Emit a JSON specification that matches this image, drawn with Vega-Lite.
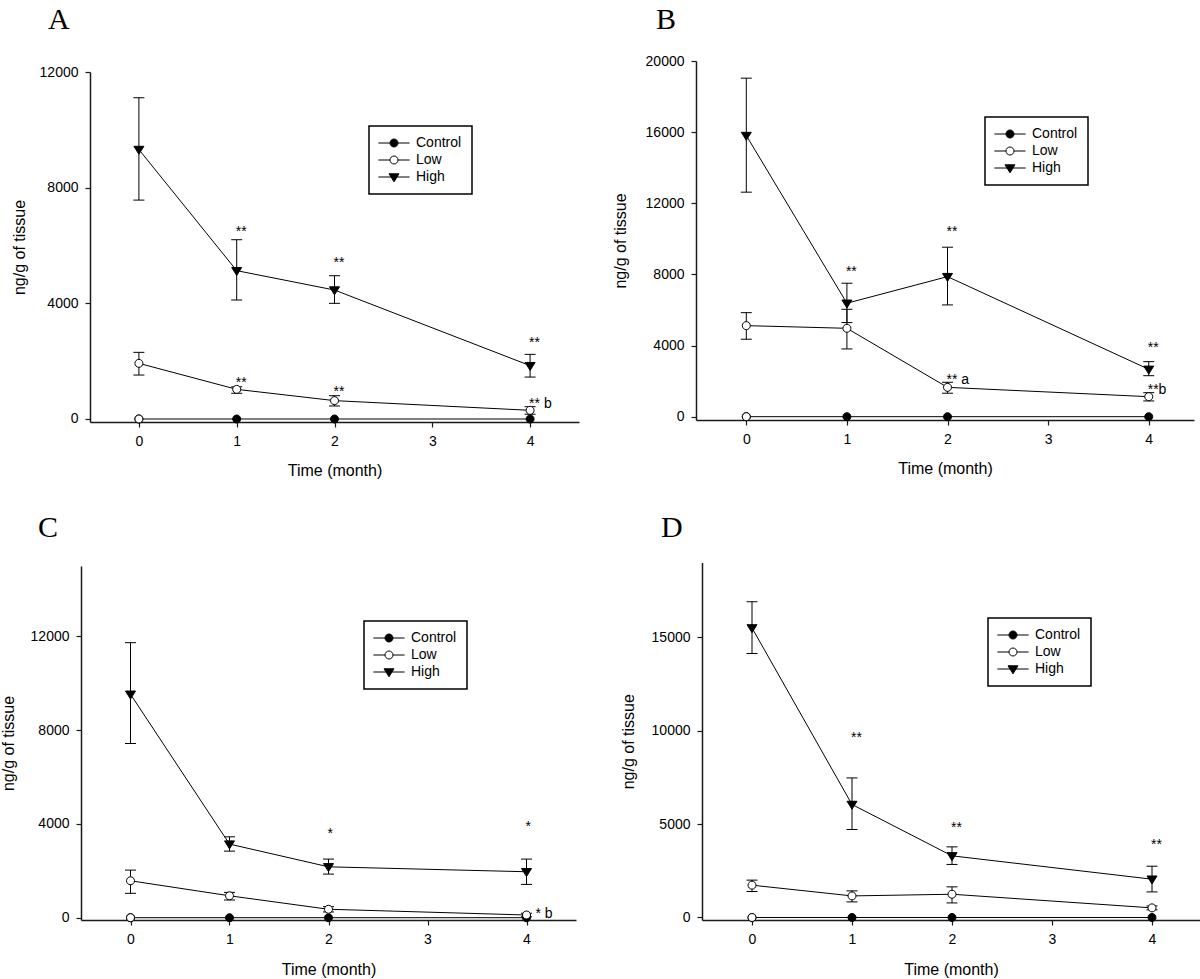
{
  "$schema": "https://vega.github.io/schema/vega-lite/v6.json",
  "padding": 0,
  "autosize": {"type": "pad"},
  "bounds": "flush",
  "spacing": 0,
  "columns": 2,
  "resolve": {"legend": {"shape": "independent", "fill": "independent"}},
  "datasets": {
    "series": [
      {"panel": "A", "group": "Control", "month": 0, "value": 0},
      {"panel": "A", "group": "Control", "month": 1, "value": 0},
      {"panel": "A", "group": "Control", "month": 2, "value": 0},
      {"panel": "A", "group": "Control", "month": 4, "value": 0},
      {"panel": "A", "group": "Low", "month": 0, "value": 1925, "lo": 1520, "hi": 2305},
      {"panel": "A", "group": "Low", "month": 1, "value": 1025, "lo": 890, "hi": 1115},
      {"panel": "A", "group": "Low", "month": 2, "value": 635, "lo": 450, "hi": 805},
      {"panel": "A", "group": "Low", "month": 4, "value": 300, "lo": 165, "hi": 425},
      {"panel": "A", "group": "High", "month": 0, "value": 9320, "lo": 7570, "hi": 11110},
      {"panel": "A", "group": "High", "month": 1, "value": 5130, "lo": 4115, "hi": 6200},
      {"panel": "A", "group": "High", "month": 2, "value": 4460, "lo": 4000, "hi": 4955},
      {"panel": "A", "group": "High", "month": 4, "value": 1845, "lo": 1450, "hi": 2235},
      {"panel": "B", "group": "Control", "month": 0, "value": 0},
      {"panel": "B", "group": "Control", "month": 1, "value": 0},
      {"panel": "B", "group": "Control", "month": 2, "value": 0},
      {"panel": "B", "group": "Control", "month": 4, "value": 0},
      {"panel": "B", "group": "Low", "month": 0, "value": 5120, "lo": 4355, "hi": 5850},
      {"panel": "B", "group": "Low", "month": 1, "value": 4970, "lo": 3810, "hi": 6040},
      {"panel": "B", "group": "Low", "month": 2, "value": 1650, "lo": 1320, "hi": 1935},
      {"panel": "B", "group": "Low", "month": 4, "value": 1125, "lo": 885, "hi": 1350},
      {"panel": "B", "group": "High", "month": 0, "value": 15810, "lo": 12625, "hi": 19035},
      {"panel": "B", "group": "High", "month": 1, "value": 6380, "lo": 5290, "hi": 7505},
      {"panel": "B", "group": "High", "month": 2, "value": 7875, "lo": 6285, "hi": 9530},
      {"panel": "B", "group": "High", "month": 4, "value": 2665, "lo": 2305, "hi": 3095},
      {"panel": "C", "group": "Control", "month": 0, "value": 0},
      {"panel": "C", "group": "Control", "month": 1, "value": 0},
      {"panel": "C", "group": "Control", "month": 2, "value": 0},
      {"panel": "C", "group": "Control", "month": 4, "value": 0},
      {"panel": "C", "group": "Low", "month": 0, "value": 1575, "lo": 1040, "hi": 2030},
      {"panel": "C", "group": "Low", "month": 1, "value": 935, "lo": 755, "hi": 1080},
      {"panel": "C", "group": "Low", "month": 2, "value": 360, "lo": 245, "hi": 470},
      {"panel": "C", "group": "Low", "month": 4, "value": 115, "lo": 40, "hi": 190},
      {"panel": "C", "group": "High", "month": 0, "value": 9530, "lo": 7430, "hi": 11730},
      {"panel": "C", "group": "High", "month": 1, "value": 3140, "lo": 2840, "hi": 3450},
      {"panel": "C", "group": "High", "month": 2, "value": 2170, "lo": 1860, "hi": 2500},
      {"panel": "C", "group": "High", "month": 4, "value": 1960, "lo": 1420, "hi": 2500},
      {"panel": "D", "group": "Control", "month": 0, "value": 0},
      {"panel": "D", "group": "Control", "month": 1, "value": 0},
      {"panel": "D", "group": "Control", "month": 2, "value": 0},
      {"panel": "D", "group": "Control", "month": 4, "value": 0},
      {"panel": "D", "group": "Low", "month": 0, "value": 1730, "lo": 1390, "hi": 2000},
      {"panel": "D", "group": "Low", "month": 1, "value": 1155, "lo": 835, "hi": 1425},
      {"panel": "D", "group": "Low", "month": 2, "value": 1245, "lo": 780, "hi": 1640},
      {"panel": "D", "group": "Low", "month": 4, "value": 515, "lo": 410, "hi": 620},
      {"panel": "D", "group": "High", "month": 0, "value": 15500, "lo": 14130, "hi": 16900},
      {"panel": "D", "group": "High", "month": 1, "value": 6050, "lo": 4710, "hi": 7470},
      {"panel": "D", "group": "High", "month": 2, "value": 3300, "lo": 2840, "hi": 3780},
      {"panel": "D", "group": "High", "month": 4, "value": 2050, "lo": 1370, "hi": 2745}
    ],
    "notes": [
      {"panel": "A", "month": 1, "pos": 6600, "label": "**"},
      {"panel": "A", "month": 2, "pos": 5530, "label": "**"},
      {"panel": "A", "month": 4, "pos": 2770, "label": "**"},
      {"panel": "A", "month": 1, "pos": 1380, "label": "**"},
      {"panel": "A", "month": 2, "pos": 1070, "label": "**"},
      {"panel": "A", "month": 4, "pos": 650, "label": "** b"},
      {"panel": "B", "month": 1, "pos": 8350, "label": "**"},
      {"panel": "B", "month": 2, "pos": 10630, "label": "**"},
      {"panel": "B", "month": 4, "pos": 4070, "label": "**"},
      {"panel": "B", "month": 2, "pos": 2300, "label": "** a"},
      {"panel": "B", "month": 4, "pos": 1700, "label": "**b"},
      {"panel": "C", "month": 2, "pos": 3740, "label": "*"},
      {"panel": "C", "month": 4, "pos": 4020, "label": "*"},
      {"panel": "C", "month": 4.1, "pos": 330, "label": "* b"},
      {"panel": "D", "month": 1, "pos": 9800, "label": "**"},
      {"panel": "D", "month": 2, "pos": 5000, "label": "**"},
      {"panel": "D", "month": 4, "pos": 4100, "label": "**"}
    ]
  },
  "concat": [
    {
      "width": 600, "height": 490,
      "title": {"text": "A", "dx": 48, "offset": -35},
      "layer": [
        {"data": {"name": "series"}, "transform": [{"filter": "datum.panel === 'A'"}],
         "mark": {"type": "line", "color": "black", "strokeWidth": 1},
         "encoding": {
           "x": {"field": "month", "type": "quantitative", "scale": {"domain": [-0.5, 4.5], "range": [90, 579], "nice": false, "zero": false},
                 "axis": {"values": [0, 1, 2, 3, 4], "format": "d", "title": "Time (month)", "offset": -68, "labelPadding": 7, "titlePadding": 14}},
           "y": {"field": "value", "type": "quantitative", "scale": {"domain": [-104, 12000], "range": [422, 72], "nice": false, "zero": false},
                 "axis": {"values": [0, 4000, 8000, 12000], "format": "d", "title": "ng/g of tissue", "offset": -90, "labelPadding": 7, "titlePadding": 12}},
           "detail": {"field": "group"}}},
        {"data": {"name": "series"}, "transform": [{"filter": "datum.panel === 'A' && isValid(datum.lo)"}],
         "mark": {"type": "rule", "color": "black", "strokeWidth": 1},
         "encoding": {
           "x": {"field": "month", "type": "quantitative", "scale": {"domain": [-0.5, 4.5], "range": [90, 579], "nice": false, "zero": false}},
           "y": {"field": "lo", "type": "quantitative", "scale": {"domain": [-104, 12000], "range": [422, 72], "nice": false, "zero": false}},
           "y2": {"field": "hi"}}},
        {"data": {"name": "series"}, "transform": [{"filter": "datum.panel === 'A' && isValid(datum.lo)"}],
         "mark": {"type": "tick", "orient": "horizontal", "size": 11, "thickness": 1, "color": "black", "opacity": 1},
         "encoding": {
           "x": {"field": "month", "type": "quantitative", "scale": {"domain": [-0.5, 4.5], "range": [90, 579], "nice": false, "zero": false}},
           "y": {"field": "lo", "type": "quantitative", "scale": {"domain": [-104, 12000], "range": [422, 72], "nice": false, "zero": false}}}},
        {"data": {"name": "series"}, "transform": [{"filter": "datum.panel === 'A' && isValid(datum.hi)"}],
         "mark": {"type": "tick", "orient": "horizontal", "size": 11, "thickness": 1, "color": "black", "opacity": 1},
         "encoding": {
           "x": {"field": "month", "type": "quantitative", "scale": {"domain": [-0.5, 4.5], "range": [90, 579], "nice": false, "zero": false}},
           "y": {"field": "hi", "type": "quantitative", "scale": {"domain": [-104, 12000], "range": [422, 72], "nice": false, "zero": false}}}},
        {"data": {"name": "series"}, "transform": [{"filter": "datum.panel === 'A'"}],
         "mark": {"type": "point", "filled": true, "stroke": "black", "strokeWidth": 1, "size": 64, "opacity": 0},
         "encoding": {
           "x": {"field": "month", "type": "quantitative", "scale": {"domain": [-0.5, 4.5], "range": [90, 579], "nice": false, "zero": false}},
           "y": {"field": "value", "type": "quantitative", "scale": {"domain": [-104, 12000], "range": [422, 72], "nice": false, "zero": false}},
           "shape": {"field": "group", "type": "nominal",
                     "scale": {"domain": ["Control", "Low", "High"], "range": ["M-3.9,0H-1M1,0H3.9M1,0A1,1,0,1,1,-1,0A1,1,0,1,1,1,0Z", "M-3.9,0H-1M1,0H3.9M1,0A1,1,0,1,1,-1,0A1,1,0,1,1,1,0Z", "M-3.9,0H3.9M-1.25,-0.8L1.25,-0.8L0,1.2Z"]},
                     "legend": {"title": null, "orient": "none", "legendX": 369, "legendY": 126, "symbolOpacity": 1}}}},
        {"data": {"name": "series"}, "transform": [{"filter": "datum.panel === 'A'"}],
         "mark": {"type": "point", "filled": true, "stroke": "black", "strokeWidth": 1, "size": 64, "opacity": 1},
         "encoding": {
           "x": {"field": "month", "type": "quantitative", "scale": {"domain": [-0.5, 4.5], "range": [90, 579], "nice": false, "zero": false}},
           "y": {"field": "value", "type": "quantitative", "scale": {"domain": [-104, 12000], "range": [422, 72], "nice": false, "zero": false}},
           "shape": {"condition": {"test": "datum.group === 'High'", "value": "M-1.25,-0.8L1.25,-0.8L0,1.2Z"}, "value": "M1,0A1,1,0,1,1,-1,0A1,1,0,1,1,1,0Z"},
           "fill": {"field": "group", "type": "nominal",
                    "scale": {"domain": ["Control", "Low", "High"], "range": ["black", "white", "black"]},
                    "legend": {"title": null, "orient": "none", "legendX": 369, "legendY": 126, "symbolOpacity": 1}}}},
        {"data": {"name": "series"}, "transform": [{"filter": "datum.panel === 'A' && datum.group === 'Control' && datum.month === 0"}],
         "mark": {"type": "point", "filled": true, "fill": "white", "stroke": "black", "strokeWidth": 1, "size": 64, "opacity": 1, "shape": "M1,0A1,1,0,1,1,-1,0A1,1,0,1,1,1,0Z"},
         "encoding": {
           "x": {"field": "month", "type": "quantitative", "scale": {"domain": [-0.5, 4.5], "range": [90, 579], "nice": false, "zero": false}},
           "y": {"field": "value", "type": "quantitative", "scale": {"domain": [-104, 12000], "range": [422, 72], "nice": false, "zero": false}}}},
        {"data": {"name": "notes"}, "transform": [{"filter": "datum.panel === 'A'"}],
         "mark": {"type": "text", "align": "left", "baseline": "alphabetic", "dx": -1, "dy": 8, "fontSize": 14, "font": "Liberation Sans", "color": "black"},
         "encoding": {
           "x": {"field": "month", "type": "quantitative", "scale": {"domain": [-0.5, 4.5], "range": [90, 579], "nice": false, "zero": false}},
           "y": {"field": "pos", "type": "quantitative", "scale": {"domain": [-104, 12000], "range": [422, 72], "nice": false, "zero": false}},
           "text": {"field": "label"}}}
      ]
    },
    {
      "width": 600, "height": 490,
      "title": {"text": "B", "dx": 56, "offset": -35},
      "layer": [
        {"data": {"name": "series"}, "transform": [{"filter": "datum.panel === 'B'"}],
         "mark": {"type": "line", "color": "black", "strokeWidth": 1},
         "encoding": {
           "x": {"field": "month", "type": "quantitative", "scale": {"domain": [-0.5, 4.45], "range": [96, 594], "nice": false, "zero": false},
                 "axis": {"values": [0, 1, 2, 3, 4], "format": "d", "title": "Time (month)", "offset": -70, "labelPadding": 7, "titlePadding": 14}},
           "y": {"field": "value", "type": "quantitative", "scale": {"domain": [-186, 20000], "range": [420, 61], "nice": false, "zero": false},
                 "axis": {"values": [0, 4000, 8000, 12000, 16000, 20000], "format": "d", "title": "ng/g of tissue", "offset": -96, "labelPadding": 7, "titlePadding": 17}},
           "detail": {"field": "group"}}},
        {"data": {"name": "series"}, "transform": [{"filter": "datum.panel === 'B' && isValid(datum.lo)"}],
         "mark": {"type": "rule", "color": "black", "strokeWidth": 1},
         "encoding": {
           "x": {"field": "month", "type": "quantitative", "scale": {"domain": [-0.5, 4.45], "range": [96, 594], "nice": false, "zero": false}},
           "y": {"field": "lo", "type": "quantitative", "scale": {"domain": [-186, 20000], "range": [420, 61], "nice": false, "zero": false}},
           "y2": {"field": "hi"}}},
        {"data": {"name": "series"}, "transform": [{"filter": "datum.panel === 'B' && isValid(datum.lo)"}],
         "mark": {"type": "tick", "orient": "horizontal", "size": 11, "thickness": 1, "color": "black", "opacity": 1},
         "encoding": {
           "x": {"field": "month", "type": "quantitative", "scale": {"domain": [-0.5, 4.45], "range": [96, 594], "nice": false, "zero": false}},
           "y": {"field": "lo", "type": "quantitative", "scale": {"domain": [-186, 20000], "range": [420, 61], "nice": false, "zero": false}}}},
        {"data": {"name": "series"}, "transform": [{"filter": "datum.panel === 'B' && isValid(datum.hi)"}],
         "mark": {"type": "tick", "orient": "horizontal", "size": 11, "thickness": 1, "color": "black", "opacity": 1},
         "encoding": {
           "x": {"field": "month", "type": "quantitative", "scale": {"domain": [-0.5, 4.45], "range": [96, 594], "nice": false, "zero": false}},
           "y": {"field": "hi", "type": "quantitative", "scale": {"domain": [-186, 20000], "range": [420, 61], "nice": false, "zero": false}}}},
        {"data": {"name": "series"}, "transform": [{"filter": "datum.panel === 'B'"}],
         "mark": {"type": "point", "filled": true, "stroke": "black", "strokeWidth": 1, "size": 64, "opacity": 0},
         "encoding": {
           "x": {"field": "month", "type": "quantitative", "scale": {"domain": [-0.5, 4.45], "range": [96, 594], "nice": false, "zero": false}},
           "y": {"field": "value", "type": "quantitative", "scale": {"domain": [-186, 20000], "range": [420, 61], "nice": false, "zero": false}},
           "shape": {"field": "group", "type": "nominal",
                     "scale": {"domain": ["Control", "Low", "High"], "range": ["M-3.9,0H-1M1,0H3.9M1,0A1,1,0,1,1,-1,0A1,1,0,1,1,1,0Z", "M-3.9,0H-1M1,0H3.9M1,0A1,1,0,1,1,-1,0A1,1,0,1,1,1,0Z", "M-3.9,0H3.9M-1.25,-0.8L1.25,-0.8L0,1.2Z"]},
                     "legend": {"title": null, "orient": "none", "legendX": 385, "legendY": 117, "symbolOpacity": 1}}}},
        {"data": {"name": "series"}, "transform": [{"filter": "datum.panel === 'B'"}],
         "mark": {"type": "point", "filled": true, "stroke": "black", "strokeWidth": 1, "size": 64, "opacity": 1},
         "encoding": {
           "x": {"field": "month", "type": "quantitative", "scale": {"domain": [-0.5, 4.45], "range": [96, 594], "nice": false, "zero": false}},
           "y": {"field": "value", "type": "quantitative", "scale": {"domain": [-186, 20000], "range": [420, 61], "nice": false, "zero": false}},
           "shape": {"condition": {"test": "datum.group === 'High'", "value": "M-1.25,-0.8L1.25,-0.8L0,1.2Z"}, "value": "M1,0A1,1,0,1,1,-1,0A1,1,0,1,1,1,0Z"},
           "fill": {"field": "group", "type": "nominal",
                    "scale": {"domain": ["Control", "Low", "High"], "range": ["black", "white", "black"]},
                    "legend": {"title": null, "orient": "none", "legendX": 385, "legendY": 117, "symbolOpacity": 1}}}},
        {"data": {"name": "series"}, "transform": [{"filter": "datum.panel === 'B' && datum.group === 'Control' && datum.month === 0"}],
         "mark": {"type": "point", "filled": true, "fill": "white", "stroke": "black", "strokeWidth": 1, "size": 64, "opacity": 1, "shape": "M1,0A1,1,0,1,1,-1,0A1,1,0,1,1,1,0Z"},
         "encoding": {
           "x": {"field": "month", "type": "quantitative", "scale": {"domain": [-0.5, 4.45], "range": [96, 594], "nice": false, "zero": false}},
           "y": {"field": "value", "type": "quantitative", "scale": {"domain": [-186, 20000], "range": [420, 61], "nice": false, "zero": false}}}},
        {"data": {"name": "notes"}, "transform": [{"filter": "datum.panel === 'B'"}],
         "mark": {"type": "text", "align": "left", "baseline": "alphabetic", "dx": -1, "dy": 8, "fontSize": 14, "font": "Liberation Sans", "color": "black"},
         "encoding": {
           "x": {"field": "month", "type": "quantitative", "scale": {"domain": [-0.5, 4.45], "range": [96, 594], "nice": false, "zero": false}},
           "y": {"field": "pos", "type": "quantitative", "scale": {"domain": [-186, 20000], "range": [420, 61], "nice": false, "zero": false}},
           "text": {"field": "label"}}}
      ]
    },
    {
      "width": 600, "height": 489,
      "title": {"text": "C", "dx": 38, "offset": -53},
      "layer": [
        {"data": {"name": "series"}, "transform": [{"filter": "datum.panel === 'C'"}],
         "mark": {"type": "line", "color": "black", "strokeWidth": 1},
         "encoding": {
           "x": {"field": "month", "type": "quantitative", "scale": {"domain": [-0.5, 4.5], "range": [81, 576], "nice": false, "zero": false},
                 "axis": {"values": [0, 1, 2, 3, 4], "format": "d", "title": "Time (month)", "offset": -59, "labelPadding": 7, "titlePadding": 15}},
           "y": {"field": "value", "type": "quantitative", "scale": {"domain": [-98, 15000], "range": [430, 76], "nice": false, "zero": false},
                 "axis": {"values": [0, 4000, 8000, 12000], "format": "d", "title": "ng/g of tissue", "offset": -81, "labelPadding": 7, "titlePadding": 14}},
           "detail": {"field": "group"}}},
        {"data": {"name": "series"}, "transform": [{"filter": "datum.panel === 'C' && isValid(datum.lo)"}],
         "mark": {"type": "rule", "color": "black", "strokeWidth": 1},
         "encoding": {
           "x": {"field": "month", "type": "quantitative", "scale": {"domain": [-0.5, 4.5], "range": [81, 576], "nice": false, "zero": false}},
           "y": {"field": "lo", "type": "quantitative", "scale": {"domain": [-98, 15000], "range": [430, 76], "nice": false, "zero": false}},
           "y2": {"field": "hi"}}},
        {"data": {"name": "series"}, "transform": [{"filter": "datum.panel === 'C' && isValid(datum.lo)"}],
         "mark": {"type": "tick", "orient": "horizontal", "size": 11, "thickness": 1, "color": "black", "opacity": 1},
         "encoding": {
           "x": {"field": "month", "type": "quantitative", "scale": {"domain": [-0.5, 4.5], "range": [81, 576], "nice": false, "zero": false}},
           "y": {"field": "lo", "type": "quantitative", "scale": {"domain": [-98, 15000], "range": [430, 76], "nice": false, "zero": false}}}},
        {"data": {"name": "series"}, "transform": [{"filter": "datum.panel === 'C' && isValid(datum.hi)"}],
         "mark": {"type": "tick", "orient": "horizontal", "size": 11, "thickness": 1, "color": "black", "opacity": 1},
         "encoding": {
           "x": {"field": "month", "type": "quantitative", "scale": {"domain": [-0.5, 4.5], "range": [81, 576], "nice": false, "zero": false}},
           "y": {"field": "hi", "type": "quantitative", "scale": {"domain": [-98, 15000], "range": [430, 76], "nice": false, "zero": false}}}},
        {"data": {"name": "series"}, "transform": [{"filter": "datum.panel === 'C'"}],
         "mark": {"type": "point", "filled": true, "stroke": "black", "strokeWidth": 1, "size": 64, "opacity": 0},
         "encoding": {
           "x": {"field": "month", "type": "quantitative", "scale": {"domain": [-0.5, 4.5], "range": [81, 576], "nice": false, "zero": false}},
           "y": {"field": "value", "type": "quantitative", "scale": {"domain": [-98, 15000], "range": [430, 76], "nice": false, "zero": false}},
           "shape": {"field": "group", "type": "nominal",
                     "scale": {"domain": ["Control", "Low", "High"], "range": ["M-3.9,0H-1M1,0H3.9M1,0A1,1,0,1,1,-1,0A1,1,0,1,1,1,0Z", "M-3.9,0H-1M1,0H3.9M1,0A1,1,0,1,1,-1,0A1,1,0,1,1,1,0Z", "M-3.9,0H3.9M-1.25,-0.8L1.25,-0.8L0,1.2Z"]},
                     "legend": {"title": null, "orient": "none", "legendX": 364, "legendY": 131, "symbolOpacity": 1}}}},
        {"data": {"name": "series"}, "transform": [{"filter": "datum.panel === 'C'"}],
         "mark": {"type": "point", "filled": true, "stroke": "black", "strokeWidth": 1, "size": 64, "opacity": 1},
         "encoding": {
           "x": {"field": "month", "type": "quantitative", "scale": {"domain": [-0.5, 4.5], "range": [81, 576], "nice": false, "zero": false}},
           "y": {"field": "value", "type": "quantitative", "scale": {"domain": [-98, 15000], "range": [430, 76], "nice": false, "zero": false}},
           "shape": {"condition": {"test": "datum.group === 'High'", "value": "M-1.25,-0.8L1.25,-0.8L0,1.2Z"}, "value": "M1,0A1,1,0,1,1,-1,0A1,1,0,1,1,1,0Z"},
           "fill": {"field": "group", "type": "nominal",
                    "scale": {"domain": ["Control", "Low", "High"], "range": ["black", "white", "black"]},
                    "legend": {"title": null, "orient": "none", "legendX": 364, "legendY": 131, "symbolOpacity": 1}}}},
        {"data": {"name": "series"}, "transform": [{"filter": "datum.panel === 'C' && datum.group === 'Control' && datum.month === 0"}],
         "mark": {"type": "point", "filled": true, "fill": "white", "stroke": "black", "strokeWidth": 1, "size": 64, "opacity": 1, "shape": "M1,0A1,1,0,1,1,-1,0A1,1,0,1,1,1,0Z"},
         "encoding": {
           "x": {"field": "month", "type": "quantitative", "scale": {"domain": [-0.5, 4.5], "range": [81, 576], "nice": false, "zero": false}},
           "y": {"field": "value", "type": "quantitative", "scale": {"domain": [-98, 15000], "range": [430, 76], "nice": false, "zero": false}}}},
        {"data": {"name": "notes"}, "transform": [{"filter": "datum.panel === 'C'"}],
         "mark": {"type": "text", "align": "left", "baseline": "alphabetic", "dx": -1, "dy": 8, "fontSize": 14, "font": "Liberation Sans", "color": "black"},
         "encoding": {
           "x": {"field": "month", "type": "quantitative", "scale": {"domain": [-0.5, 4.5], "range": [81, 576], "nice": false, "zero": false}},
           "y": {"field": "pos", "type": "quantitative", "scale": {"domain": [-98, 15000], "range": [430, 76], "nice": false, "zero": false}},
           "text": {"field": "label"}}}
      ]
    },
    {
      "width": 600, "height": 489,
      "title": {"text": "D", "dx": 61, "offset": -53},
      "layer": [
        {"data": {"name": "series"}, "transform": [{"filter": "datum.panel === 'D'"}],
         "mark": {"type": "line", "color": "black", "strokeWidth": 1},
         "encoding": {
           "x": {"field": "month", "type": "quantitative", "scale": {"domain": [-0.5, 4.48], "range": [102, 600], "nice": false, "zero": false},
                 "axis": {"values": [0, 1, 2, 3, 4], "format": "d", "title": "Time (month)", "offset": -59, "labelPadding": 7, "titlePadding": 15}},
           "y": {"field": "value", "type": "quantitative", "scale": {"domain": [-134, 19000], "range": [430, 72.5], "nice": false, "zero": false},
                 "axis": {"values": [0, 5000, 10000, 15000], "format": "d", "title": "ng/g of tissue", "offset": -102, "labelPadding": 7, "titlePadding": 15}},
           "detail": {"field": "group"}}},
        {"data": {"name": "series"}, "transform": [{"filter": "datum.panel === 'D' && isValid(datum.lo)"}],
         "mark": {"type": "rule", "color": "black", "strokeWidth": 1},
         "encoding": {
           "x": {"field": "month", "type": "quantitative", "scale": {"domain": [-0.5, 4.48], "range": [102, 600], "nice": false, "zero": false}},
           "y": {"field": "lo", "type": "quantitative", "scale": {"domain": [-134, 19000], "range": [430, 72.5], "nice": false, "zero": false}},
           "y2": {"field": "hi"}}},
        {"data": {"name": "series"}, "transform": [{"filter": "datum.panel === 'D' && isValid(datum.lo)"}],
         "mark": {"type": "tick", "orient": "horizontal", "size": 11, "thickness": 1, "color": "black", "opacity": 1},
         "encoding": {
           "x": {"field": "month", "type": "quantitative", "scale": {"domain": [-0.5, 4.48], "range": [102, 600], "nice": false, "zero": false}},
           "y": {"field": "lo", "type": "quantitative", "scale": {"domain": [-134, 19000], "range": [430, 72.5], "nice": false, "zero": false}}}},
        {"data": {"name": "series"}, "transform": [{"filter": "datum.panel === 'D' && isValid(datum.hi)"}],
         "mark": {"type": "tick", "orient": "horizontal", "size": 11, "thickness": 1, "color": "black", "opacity": 1},
         "encoding": {
           "x": {"field": "month", "type": "quantitative", "scale": {"domain": [-0.5, 4.48], "range": [102, 600], "nice": false, "zero": false}},
           "y": {"field": "hi", "type": "quantitative", "scale": {"domain": [-134, 19000], "range": [430, 72.5], "nice": false, "zero": false}}}},
        {"data": {"name": "series"}, "transform": [{"filter": "datum.panel === 'D'"}],
         "mark": {"type": "point", "filled": true, "stroke": "black", "strokeWidth": 1, "size": 64, "opacity": 0},
         "encoding": {
           "x": {"field": "month", "type": "quantitative", "scale": {"domain": [-0.5, 4.48], "range": [102, 600], "nice": false, "zero": false}},
           "y": {"field": "value", "type": "quantitative", "scale": {"domain": [-134, 19000], "range": [430, 72.5], "nice": false, "zero": false}},
           "shape": {"field": "group", "type": "nominal",
                     "scale": {"domain": ["Control", "Low", "High"], "range": ["M-3.9,0H-1M1,0H3.9M1,0A1,1,0,1,1,-1,0A1,1,0,1,1,1,0Z", "M-3.9,0H-1M1,0H3.9M1,0A1,1,0,1,1,-1,0A1,1,0,1,1,1,0Z", "M-3.9,0H3.9M-1.25,-0.8L1.25,-0.8L0,1.2Z"]},
                     "legend": {"title": null, "orient": "none", "legendX": 388, "legendY": 128, "symbolOpacity": 1}}}},
        {"data": {"name": "series"}, "transform": [{"filter": "datum.panel === 'D'"}],
         "mark": {"type": "point", "filled": true, "stroke": "black", "strokeWidth": 1, "size": 64, "opacity": 1},
         "encoding": {
           "x": {"field": "month", "type": "quantitative", "scale": {"domain": [-0.5, 4.48], "range": [102, 600], "nice": false, "zero": false}},
           "y": {"field": "value", "type": "quantitative", "scale": {"domain": [-134, 19000], "range": [430, 72.5], "nice": false, "zero": false}},
           "shape": {"condition": {"test": "datum.group === 'High'", "value": "M-1.25,-0.8L1.25,-0.8L0,1.2Z"}, "value": "M1,0A1,1,0,1,1,-1,0A1,1,0,1,1,1,0Z"},
           "fill": {"field": "group", "type": "nominal",
                    "scale": {"domain": ["Control", "Low", "High"], "range": ["black", "white", "black"]},
                    "legend": {"title": null, "orient": "none", "legendX": 388, "legendY": 128, "symbolOpacity": 1}}}},
        {"data": {"name": "series"}, "transform": [{"filter": "datum.panel === 'D' && datum.group === 'Control' && datum.month === 0"}],
         "mark": {"type": "point", "filled": true, "fill": "white", "stroke": "black", "strokeWidth": 1, "size": 64, "opacity": 1, "shape": "M1,0A1,1,0,1,1,-1,0A1,1,0,1,1,1,0Z"},
         "encoding": {
           "x": {"field": "month", "type": "quantitative", "scale": {"domain": [-0.5, 4.48], "range": [102, 600], "nice": false, "zero": false}},
           "y": {"field": "value", "type": "quantitative", "scale": {"domain": [-134, 19000], "range": [430, 72.5], "nice": false, "zero": false}}}},
        {"data": {"name": "notes"}, "transform": [{"filter": "datum.panel === 'D'"}],
         "mark": {"type": "text", "align": "left", "baseline": "alphabetic", "dx": -1, "dy": 8, "fontSize": 14, "font": "Liberation Sans", "color": "black"},
         "encoding": {
           "x": {"field": "month", "type": "quantitative", "scale": {"domain": [-0.5, 4.48], "range": [102, 600], "nice": false, "zero": false}},
           "y": {"field": "pos", "type": "quantitative", "scale": {"domain": [-134, 19000], "range": [430, 72.5], "nice": false, "zero": false}},
           "text": {"field": "label"}}}
      ]
    }
  ],
  "config": {
    "view": {"stroke": null},
    "font": "Liberation Sans",
    "axis": {"grid": false, "domainColor": "#1a1a1a", "domainWidth": 1.5, "tickColor": "#1a1a1a", "tickWidth": 1.2, "tickSize": 5,
             "labelFont": "Liberation Sans", "labelFontSize": 14, "labelColor": "black", "labelFlush": false, "labelOverlap": false,
             "titleFont": "Liberation Sans", "titleFontSize": 16, "titleFontWeight": "normal", "titleColor": "black"},
    "legend": {"strokeColor": "black", "fillColor": "white", "strokeWidth": 1.5, "padding": 10, "labelFont": "Liberation Sans", "labelFontSize": 14, "labelColor": "black",
               "symbolSize": 64, "symbolStrokeWidth": 1, "rowPadding": 3, "symbolOffset": 8, "labelOffset": 15},
    "title": {"anchor": "start", "frame": "group", "font": "Liberation Serif", "fontSize": 30, "fontWeight": "normal", "color": "black", "baseline": "alphabetic"}
  }
}
